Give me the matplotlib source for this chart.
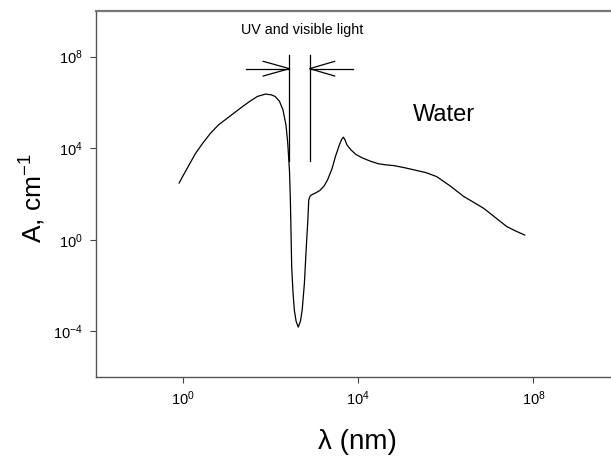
import numpy as np
import matplotlib
matplotlib.use('Agg')
import matplotlib.pyplot as plt

plt.rcParams['font.family'] = ['Liberation Sans', 'DejaVu Sans']
plt.rcParams['mathtext.default'] = 'regular'

# absorption coefficient of water (log10 values)
log_wl = [-0.09, 0.00, 0.10, 0.28, 0.45, 0.63, 0.81, 0.99, 1.16, 1.34, 1.52, 1.70,
          1.88, 2.01, 2.10, 2.20, 2.28, 2.35, 2.39, 2.43, 2.45, 2.48, 2.51, 2.54,
          2.58, 2.63, 2.68, 2.72, 2.77, 2.81, 2.85, 2.87, 2.90, 2.94, 3.03, 3.12,
          3.22, 3.30, 3.40, 3.48, 3.57, 3.62, 3.66, 3.70, 3.74, 3.83, 3.95, 4.10,
          4.28, 4.46, 4.64, 4.81, 5.05, 5.26, 5.55, 5.79, 6.10, 6.41, 6.65, 6.86,
          7.10, 7.39, 7.60, 7.80]
log_a = [2.48, 2.80, 3.14, 3.76, 4.22, 4.66, 5.02, 5.28, 5.53, 5.79, 6.04, 6.26,
         6.36, 6.33, 6.26, 6.05, 5.68, 5.00, 4.22, 3.00, 1.75, -1.16, -2.30, -3.06,
         -3.55, -3.81, -3.55, -3.06, -1.90, -0.44, 0.90, 1.75, 1.90, 1.97, 2.05, 2.15,
         2.35, 2.62, 3.10, 3.64, 4.15, 4.38, 4.48, 4.35, 4.15, 3.93, 3.72, 3.57,
         3.43, 3.32, 3.27, 3.24, 3.15, 3.06, 2.93, 2.76, 2.35, 1.89, 1.62, 1.38,
         1.02, 0.58, 0.38, 0.21]

# UV / visible band markers (log10 nm, log10 cm^-1)
band_edges = [2.43, 2.89]
band_bottom, band_top = 3.45, 8.08
arrow_y = 7.47
arrow_tail = [1.43, 3.88]
barb_x = [1.83, 3.46]
barb_dy = 0.32

wl = 10 ** np.array(log_wl)
a = 10 ** np.array(log_a)

fig = plt.figure(figsize=(6.11, 4.57), dpi=100)
ax = fig.add_axes([95.5 / 611, 1 - 377.3 / 457, (621 - 95.5) / 611, (377.3 - 10.7) / 457])

ax.plot(wl, a, color='black', lw=0.9)

for i, e in enumerate(band_edges):
    ax.plot([10 ** e, 10 ** e], [10 ** band_bottom, 10 ** band_top], color='black', lw=0.9)
    ax.plot([10 ** arrow_tail[i], 10 ** e], [10 ** arrow_y, 10 ** arrow_y], color='black', lw=0.9)
    ax.plot([10 ** barb_x[i], 10 ** e, 10 ** barb_x[i]],
            [10 ** (arrow_y + barb_dy), 10 ** arrow_y, 10 ** (arrow_y - barb_dy)],
            color='black', lw=0.9)

ax.set_xscale('log')
ax.set_yscale('log')
ax.set_xlim(1e-2, 1e10)
ax.set_ylim(1e-6, 1e10)
ax.set_xticks([1, 1e4, 1e8])
ax.set_xticklabels(['$10^{0}$', '$10^{4}$', '$10^{8}$'])
ax.set_yticks([1e-4, 1, 1e4, 1e8])
ax.set_yticklabels(['$10^{-4}$', '$10^{0}$', '$10^{4}$', '$10^{8}$'])
ax.minorticks_off()
ax.tick_params(direction='out', length=4, width=0.8, color='#444444', labelsize=10.5, pad=5)

for s in ['left', 'bottom', 'top']:
    ax.spines[s].set_color('#555555')
    ax.spines[s].set_linewidth(1.0)
ax.spines['top'].set_color('#777777')
ax.spines['top'].set_linewidth(1.6)
ax.spines['right'].set_visible(False)

fig.text(302 / 611, 1 - 30 / 457, 'UV and visible light', fontsize=10.3, ha='center', va='center')
fig.text(444 / 611, 1 - 115 / 457, 'Water', fontsize=17, ha='center', va='center')
fig.text(357.7 / 611, 1 - 442 / 457, 'λ (nm)', fontsize=20, ha='center', va='center')
fig.text(33 / 611, 1 - 198 / 457, 'A, cm$^{-1}$', fontsize=19, ha='center', va='center', rotation=90)

fig.savefig('out.png', dpi=100)
